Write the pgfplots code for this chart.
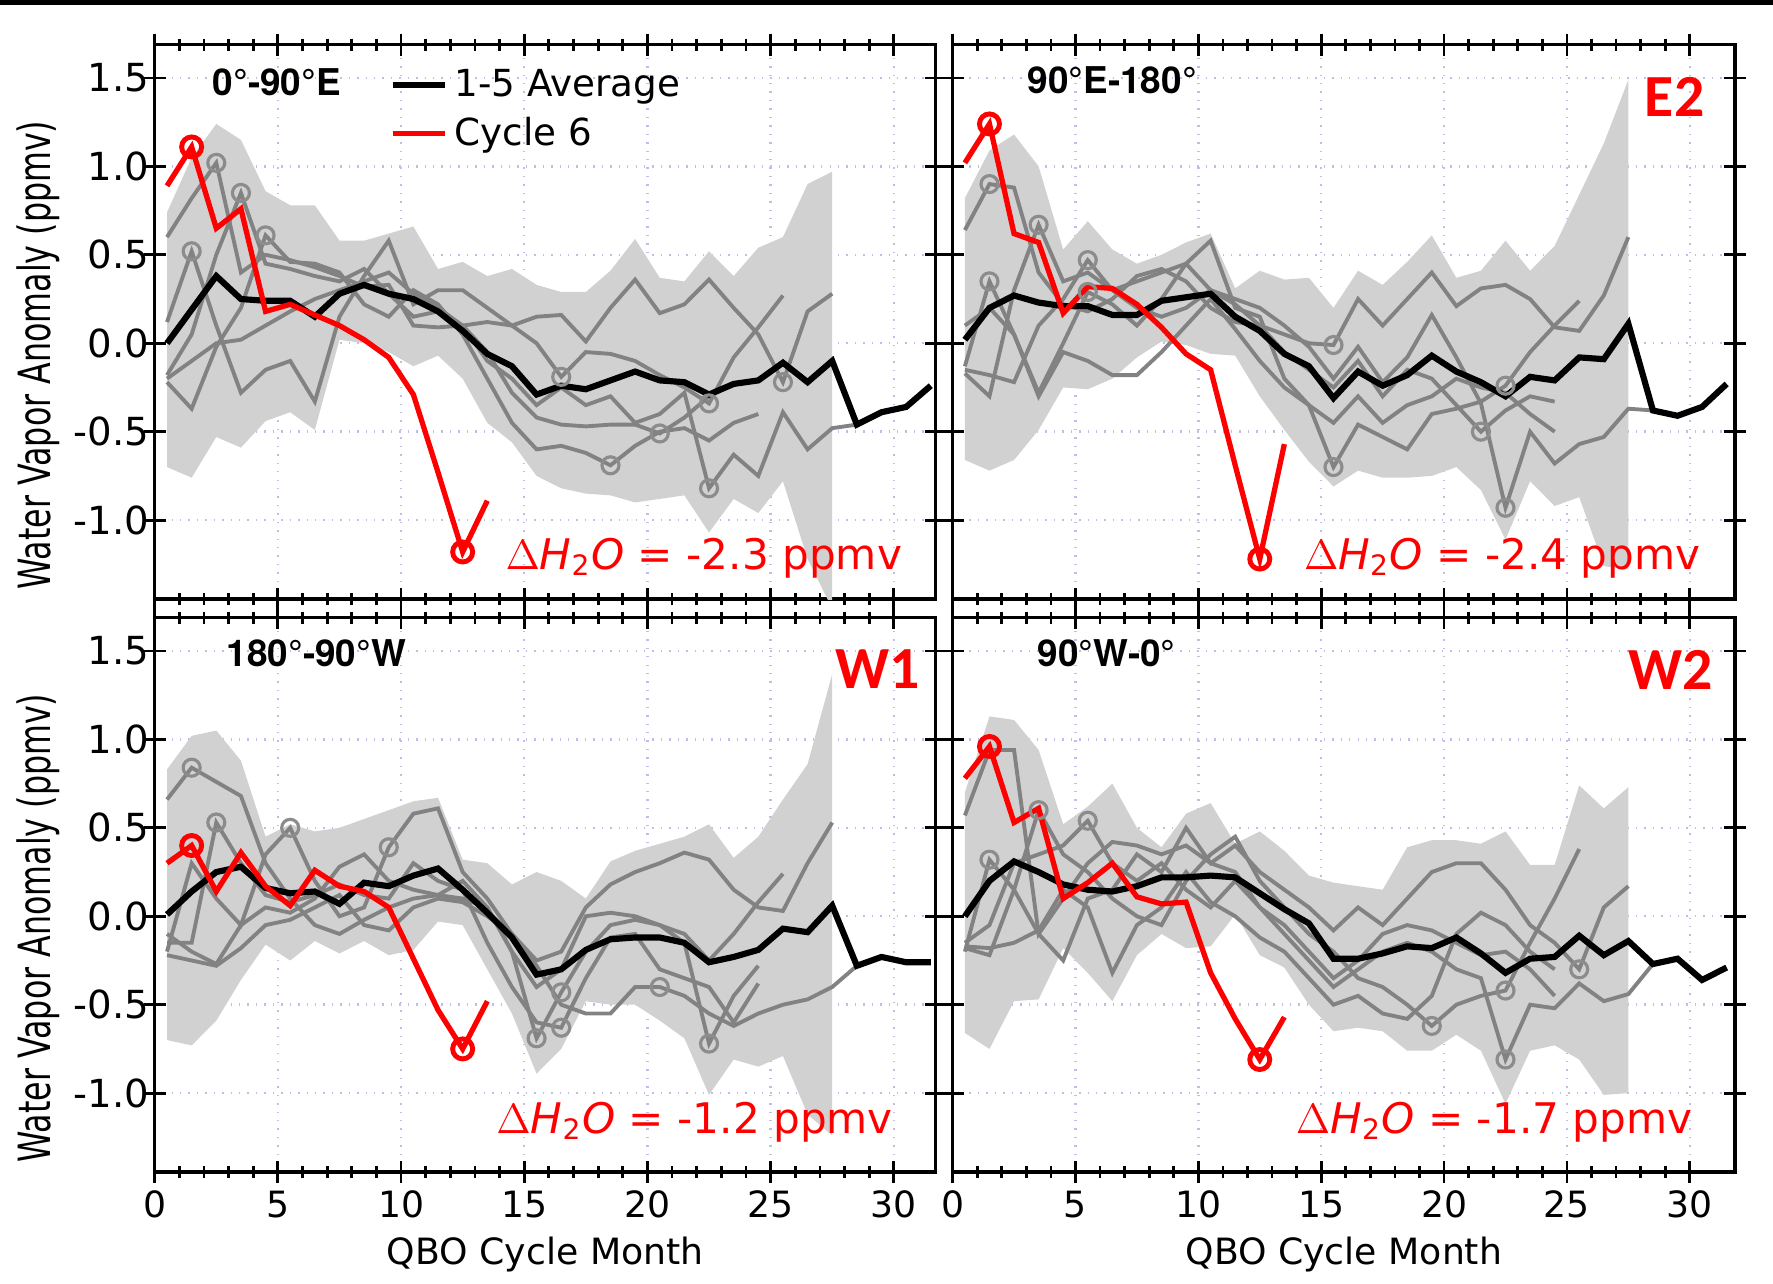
\documentclass[border=0pt]{standalone}
\usepackage{pgfplots}
\pgfplotsset{compat=1.18}
\usepackage{fontspec}
\setmainfont{DejaVu Sans}
\newfontfamily\heros{TeX Gyre Heros}
\newfontfamily\carlito{Carlito}
\definecolor{bandgray}{RGB}{209,209,209}
\definecolor{linegray}{RGB}{130,130,130}
\definecolor{circgray}{RGB}{140,140,140}
\definecolor{gridc}{RGB}{190,190,235}
\definecolor{pred}{RGB}{255,0,0}
\tikzset{
  ttl/.style={anchor=base west, inner sep=0pt, font=\heros\bfseries\fontsize{10.5}{12}\selectfont},
  rlab/.style={anchor=base east, text=pred, inner sep=0pt, font=\carlito\bfseries\fontsize{17}{20}\selectfont},
  dl/.style={anchor=base east, text=pred, inner sep=0pt, font=\fontsize{12}{14}\selectfont},
}
\pgfplotsset{
  panel/.style={
    scale only axis, width=78.1mm, height=55.43mm,
    xmin=0, xmax=31.75, ymin=-1.446, ymax=1.688,
    xtick={0,5,10,15,20,25,30}, minor x tick num=4,
    ytick={-1,-0.5,0,0.5,1,1.5},
    tick align=center, tick pos=both,
    major tick length=2.2mm, minor tick length=1.2mm,
    tick style={black, line width=0.8pt},
    axis line style={line width=0.9pt},
    xmajorgrids, ymajorgrids,
    major grid style={gridc, dotted, line width=0.7pt},
    x tick label style={font=\fontsize{10.3}{12}\selectfont, inner sep=0pt, yshift=-0.7mm},
    y tick label style={font=\fontsize{11}{13}\selectfont, /pgf/number format/fixed, /pgf/number format/fixed zerofill, /pgf/number format/precision=1, inner sep=0pt, xshift=0.6mm},
    /pgf/number format/assume math mode=true,
    clip=true,
  },
  leftp/.style={ylabel={\scalebox{0.82}[1.15]{Water Vapor Anomaly (ppmv)}},
    ylabel style={at={(axis description cs:-0.1487,0.44)}, anchor=center, inner sep=0pt, font=\fontsize{11}{13}\selectfont}},
  rightp/.style={yticklabels={}},
  topp/.style={xticklabels={}},
  botp/.style={xlabel={QBO Cycle Month},
    xlabel style={at={(axis description cs:0.5,0)}, anchor=north, yshift=-6.4mm, inner sep=0pt, font=\fontsize{10.3}{12}\selectfont}},
  band/.style={fill=bandgray, draw=none, forget plot},
  gl/.style={linegray, line width=1.1pt, forget plot},
  gc/.style={only marks, mark=o, mark size=0.85mm, circgray, mark options={line width=0.9pt}, forget plot},
  bl/.style={black, line width=1.75pt, forget plot},
  rl/.style={pred, line width=1.5pt, forget plot},
  rc/.style={only marks, mark=o, mark size=1mm, pred, mark options={line width=1.4pt}, forget plot},
}
\newcommand{\dlab}[1]{$\Delta${\itshape H}\textsubscript{2}{\itshape O} = #1 ppmv}
\begin{document}
\begin{tikzpicture}
\path[use as bounding box] (0,0) rectangle (177.3mm,128.3mm);
\fill[black] (0,127.8mm) rectangle (177.3mm,128.3mm);

% ---------------- Top left: 0-90E
\begin{axis}[panel, leftp, topp, at={(15.47mm,68.4mm)}, anchor=south west, xmax=31.7,
  legend style={at={(axis cs:9.5,1.595)}, anchor=north west, draw=none, fill=none, inner sep=0pt, row sep=0.15mm, font=\fontsize{10.6}{12}\selectfont, cells={anchor=west}},
  legend image code/.code={\draw[#1] (0mm,0mm) -- (5.2mm,0mm);}]
\addlegendimage{black, line width=1.75pt}\addlegendentry{1-5 Average}
\addlegendimage{pred, line width=1.5pt}\addlegendentry{Cycle 6}
\addplot[band] coordinates {(0.5,0.74)(1.5,1.05)(2.5,1.24)(3.5,1.15)(4.5,0.86)(5.5,0.78)(6.5,0.78)(7.5,0.58)(8.5,0.58)(9.5,0.62)(10.5,0.66)(11.5,0.42)(12.5,0.46)(13.5,0.38)(14.5,0.42)(15.5,0.33)(16.5,0.29)(17.5,0.29)(18.5,0.41)(19.5,0.59)(20.5,0.37)(21.5,0.35)(22.5,0.52)(23.5,0.38)(24.5,0.54)(25.5,0.60)(26.5,0.90)(27.5,0.97)
 (27.5,-1.50)(26.5,-1.22)(25.5,-0.78)(24.5,-0.96)(23.5,-0.88)(22.5,-1.07)(21.5,-0.86)(20.5,-0.88)(19.5,-0.90)(18.5,-0.86)(17.5,-0.85)(16.5,-0.82)(15.5,-0.75)(14.5,-0.56)(13.5,-0.45)(12.5,-0.20)(11.5,-0.07)(10.5,-0.13)(9.5,-0.05)(8.5,0.00)(7.5,0.02)(6.5,-0.49)(5.5,-0.39)(4.5,-0.44)(3.5,-0.59)(2.5,-0.53)(1.5,-0.76)(0.5,-0.70)} --cycle;
\addplot[gl] coordinates {(0.5,0.60)(1.5,0.82)(2.5,1.02)(3.5,0.40)(4.5,0.50)(5.5,0.47)(6.5,0.43)(7.5,0.38)(8.5,0.32)(9.5,0.33)(10.5,0.10)(11.5,0.09)(12.5,0.10)(13.5,0.12)(14.5,0.10)(15.5,0.00)(16.5,-0.19)(17.5,-0.05)(18.5,-0.06)(19.5,-0.10)(20.5,-0.18)(21.5,-0.25)(22.5,-0.34)(23.5,-0.08)(24.5,0.09)(25.5,0.27)};
\addplot[gl] coordinates {(0.5,0.12)(1.5,0.52)(2.5,0.10)(3.5,-0.28)(4.5,-0.15)(5.5,-0.10)(6.5,-0.33)(7.5,0.15)(8.5,0.38)(9.5,0.58)(10.5,0.22)(11.5,0.30)(12.5,0.30)(13.5,0.20)(14.5,0.10)(15.5,0.15)(16.5,0.16)(17.5,0.01)(18.5,0.20)(19.5,0.36)(20.5,0.17)(21.5,0.22)(22.5,0.36)(23.5,0.20)(24.5,0.05)(25.5,-0.22)(26.5,0.18)(27.5,0.28)};
\addplot[gl] coordinates {(0.5,-0.18)(1.5,0.05)(2.5,0.50)(3.5,0.85)(4.5,0.45)(5.5,0.42)(6.5,0.38)(7.5,0.35)(8.5,0.42)(9.5,0.28)(10.5,0.15)(11.5,0.18)(12.5,0.10)(13.5,-0.05)(14.5,-0.28)(15.5,-0.42)(16.5,-0.46)(17.5,-0.47)(18.5,-0.46)(19.5,-0.46)(20.5,-0.51)(21.5,-0.42)(22.5,-0.30)};
\addplot[gl] coordinates {(0.5,-0.22)(1.5,-0.37)(2.5,-0.02)(3.5,0.20)(4.5,0.61)(5.5,0.46)(6.5,0.45)(7.5,0.40)(8.5,0.22)(9.5,0.15)(10.5,0.30)(11.5,0.22)(12.5,0.05)(13.5,-0.20)(14.5,-0.45)(15.5,-0.60)(16.5,-0.58)(17.5,-0.62)(18.5,-0.69)(19.5,-0.58)(20.5,-0.50)(21.5,-0.48)(22.5,-0.55)(23.5,-0.45)(24.5,-0.40)};
\addplot[gl] coordinates {(0.5,-0.20)(1.5,-0.10)(2.5,0.00)(3.5,0.02)(4.5,0.10)(5.5,0.18)(6.5,0.25)(7.5,0.30)(8.5,0.35)(9.5,0.40)(10.5,0.28)(11.5,0.20)(12.5,0.10)(13.5,-0.10)(14.5,-0.20)(15.5,-0.35)(16.5,-0.25)(17.5,-0.35)(18.5,-0.30)(19.5,-0.45)(20.5,-0.40)(21.5,-0.28)(22.5,-0.82)(23.5,-0.63)(24.5,-0.75)(25.5,-0.39)(26.5,-0.60)(27.5,-0.48)(28.5,-0.46)};
\addplot[gc] coordinates {(1.5,0.52)(2.5,1.02)(3.5,0.85)(4.5,0.61)(16.5,-0.19)(18.5,-0.69)(20.5,-0.51)(22.5,-0.34)(22.5,-0.82)(25.5,-0.22)};
\addplot[bl] coordinates {(0.5,0.00)(1.5,0.19)(2.5,0.38)(3.5,0.25)(4.5,0.24)(5.5,0.24)(6.5,0.15)(7.5,0.28)(8.5,0.33)(9.5,0.28)(10.5,0.25)(11.5,0.18)(12.5,0.07)(13.5,-0.06)(14.5,-0.13)(15.5,-0.29)(16.5,-0.24)(17.5,-0.26)(18.5,-0.21)(19.5,-0.16)(20.5,-0.21)(21.5,-0.22)(22.5,-0.29)(23.5,-0.23)(24.5,-0.21)(25.5,-0.11)(26.5,-0.22)(27.5,-0.10)(28.5,-0.46)(29.5,-0.39)(30.5,-0.36)(31.5,-0.24)};
\addplot[rl] coordinates {(0.5,0.89)(1.5,1.11)(2.5,0.65)(3.5,0.76)(4.5,0.18)(5.5,0.22)(6.5,0.16)(7.5,0.10)(8.5,0.02)(9.5,-0.08)(10.5,-0.29)(11.5,-0.73)(12.5,-1.18)(13.5,-0.89)};
\addplot[rc] coordinates {(1.5,1.11)(12.5,-1.18)};
\node[ttl] at (axis cs:2.33,1.40) {0°-90°E};
\node[dl] at (axis cs:30.36,-1.28) {\dlab{-2.3}};
\end{axis}

% ---------------- Top right: 90E-180
\begin{axis}[panel, rightp, topp, at={(95.26mm,68.4mm)}, anchor=south west, width=78.24mm, xmax=31.84]
\addplot[band] coordinates {(0.5,0.82)(1.5,1.09)(2.5,1.18)(3.5,1.00)(4.5,0.53)(5.5,0.69)(6.5,0.53)(7.5,0.45)(8.5,0.50)(9.5,0.57)(10.5,0.62)(11.5,0.31)(12.5,0.41)(13.5,0.36)(14.5,0.37)(15.5,0.20)(16.5,0.41)(17.5,0.33)(18.5,0.46)(19.5,0.61)(20.5,0.37)(21.5,0.41)(22.5,0.58)(23.5,0.41)(24.5,0.55)(25.5,0.84)(26.5,1.13)(27.5,1.49)
 (27.5,-1.28)(26.5,-1.26)(25.5,-0.87)(24.5,-0.92)(23.5,-0.78)(22.5,-1.11)(21.5,-0.83)(20.5,-0.70)(19.5,-0.75)(18.5,-0.76)(17.5,-0.76)(16.5,-0.72)(15.5,-0.81)(14.5,-0.67)(13.5,-0.49)(12.5,-0.30)(11.5,-0.07)(10.5,-0.06)(9.5,-0.01)(8.5,0.01)(7.5,-0.08)(6.5,-0.20)(5.5,-0.26)(4.5,-0.25)(3.5,-0.49)(2.5,-0.66)(1.5,-0.72)(0.5,-0.66)} --cycle;
\addplot[gl] coordinates {(0.5,0.64)(1.5,0.90)(2.5,0.88)(3.5,0.40)(4.5,0.22)(5.5,0.18)(6.5,0.25)(7.5,0.38)(8.5,0.42)(9.5,0.35)(10.5,0.20)(11.5,0.12)(12.5,0.10)(13.5,0.05)(14.5,0.00)(15.5,-0.01)(16.5,0.25)(17.5,0.10)(18.5,0.25)(19.5,0.40)(20.5,0.21)(21.5,0.31)(22.5,0.33)(23.5,0.25)(24.5,0.09)(25.5,0.07)(26.5,0.27)(27.5,0.60)};
\addplot[gl] coordinates {(0.5,-0.13)(1.5,0.35)(2.5,0.05)(3.5,-0.28)(4.5,0.00)(5.5,0.29)(6.5,0.22)(7.5,0.10)(8.5,0.25)(9.5,0.45)(10.5,0.58)(11.5,0.20)(12.5,0.15)(13.5,-0.20)(14.5,-0.35)(15.5,-0.70)(16.5,-0.46)(17.5,-0.53)(18.5,-0.60)(19.5,-0.40)(20.5,-0.37)(21.5,-0.33)(22.5,-0.24)(23.5,-0.05)(24.5,0.10)(25.5,0.24)};
\addplot[gl] coordinates {(0.5,-0.17)(1.5,-0.30)(2.5,0.30)(3.5,0.67)(4.5,0.35)(5.5,0.40)(6.5,0.30)(7.5,0.20)(8.5,0.15)(9.5,0.20)(10.5,0.30)(11.5,0.25)(12.5,0.20)(13.5,0.10)(14.5,-0.02)(15.5,-0.20)(16.5,-0.02)(17.5,-0.22)(18.5,-0.08)(19.5,0.16)(20.5,-0.08)(21.5,-0.34)(22.5,-0.93)(23.5,-0.50)(24.5,-0.68)(25.5,-0.57)(26.5,-0.53)(27.5,-0.37)(28.5,-0.38)};
\addplot[gl] coordinates {(0.5,-0.15)(1.5,-0.18)(2.5,-0.22)(3.5,0.10)(4.5,0.25)(5.5,0.47)(6.5,0.30)(7.5,0.35)(8.5,0.40)(9.5,0.45)(10.5,0.30)(11.5,0.22)(12.5,0.10)(13.5,-0.05)(14.5,-0.15)(15.5,-0.25)(16.5,-0.10)(17.5,-0.30)(18.5,-0.15)(19.5,-0.20)(20.5,-0.35)(21.5,-0.50)(22.5,-0.38)(23.5,-0.30)(24.5,-0.33)};
\addplot[gl] coordinates {(0.5,0.10)(1.5,0.20)(2.5,0.05)(3.5,-0.30)(4.5,-0.05)(5.5,-0.10)(6.5,-0.18)(7.5,-0.18)(8.5,-0.05)(9.5,0.10)(10.5,0.25)(11.5,0.08)(12.5,-0.10)(13.5,-0.25)(14.5,-0.35)(15.5,-0.45)(16.5,-0.30)(17.5,-0.45)(18.5,-0.35)(19.5,-0.30)(20.5,-0.20)(21.5,-0.25)(22.5,-0.28)(23.5,-0.40)(24.5,-0.50)};
\addplot[gc] coordinates {(1.5,0.90)(1.5,0.35)(3.5,0.67)(5.5,0.47)(5.5,0.29)(15.5,-0.01)(15.5,-0.70)(21.5,-0.50)(22.5,-0.93)(22.5,-0.24)};
\addplot[bl] coordinates {(0.5,0.02)(1.5,0.20)(2.5,0.27)(3.5,0.23)(4.5,0.21)(5.5,0.21)(6.5,0.16)(7.5,0.16)(8.5,0.24)(9.5,0.26)(10.5,0.28)(11.5,0.15)(12.5,0.07)(13.5,-0.06)(14.5,-0.13)(15.5,-0.31)(16.5,-0.16)(17.5,-0.24)(18.5,-0.18)(19.5,-0.07)(20.5,-0.16)(21.5,-0.22)(22.5,-0.30)(23.5,-0.19)(24.5,-0.21)(25.5,-0.08)(26.5,-0.09)(27.5,0.11)(28.5,-0.38)(29.5,-0.41)(30.5,-0.36)(31.5,-0.23)};
\addplot[rl] coordinates {(0.5,1.02)(1.5,1.24)(2.5,0.62)(3.5,0.57)(4.5,0.17)(5.5,0.32)(6.5,0.31)(7.5,0.22)(8.5,0.09)(9.5,-0.06)(10.5,-0.15)(11.5,-0.69)(12.5,-1.22)(13.5,-0.57)};
\addplot[rc] coordinates {(1.5,1.24)(12.5,-1.22)};
\node[ttl] at (axis cs:3.03,1.41) {90°E-180°};
\node[rlab] at (axis cs:30.62,1.28) {E2};
\node[dl] at (axis cs:30.46,-1.28) {\dlab{-2.4}};
\end{axis}

% ---------------- Bottom left: 180-90W
\begin{axis}[panel, leftp, botp, at={(15.47mm,11.1mm)}, anchor=south west, xmax=31.7]
\addplot[band] coordinates {(0.5,0.83)(1.5,1.02)(2.5,1.05)(3.5,0.88)(4.5,0.45)(5.5,0.52)(6.5,0.48)(7.5,0.50)(8.5,0.55)(9.5,0.60)(10.5,0.65)(11.5,0.67)(12.5,0.32)(13.5,0.30)(14.5,0.18)(15.5,0.25)(16.5,0.20)(17.5,0.10)(18.5,0.31)(19.5,0.37)(20.5,0.41)(21.5,0.45)(22.5,0.52)(23.5,0.33)(24.5,0.45)(25.5,0.66)(26.5,0.86)(27.5,1.37)
 (27.5,-1.24)(26.5,-1.12)(25.5,-0.79)(24.5,-0.85)(23.5,-0.81)(22.5,-1.01)(21.5,-0.69)(20.5,-0.59)(19.5,-0.50)(18.5,-0.50)(17.5,-0.48)(16.5,-0.75)(15.5,-0.89)(14.5,-0.55)(13.5,-0.30)(12.5,-0.05)(11.5,-0.03)(10.5,-0.19)(9.5,-0.22)(8.5,-0.14)(7.5,-0.21)(6.5,-0.14)(5.5,-0.25)(4.5,-0.16)(3.5,-0.36)(2.5,-0.59)(1.5,-0.73)(0.5,-0.70)} --cycle;
\addplot[gl] coordinates {(0.5,0.66)(1.5,0.84)(2.5,0.76)(3.5,0.68)(4.5,0.30)(5.5,0.10)(6.5,-0.05)(7.5,-0.10)(8.5,-0.02)(9.5,0.05)(10.5,0.10)(11.5,0.12)(12.5,0.10)(13.5,0.05)(14.5,-0.20)(15.5,-0.69)(16.5,-0.43)(17.5,-0.20)(18.5,-0.05)(19.5,-0.02)(20.5,-0.05)(21.5,-0.15)(22.5,-0.72)(23.5,-0.45)(24.5,-0.28)};
\addplot[gl] coordinates {(0.5,-0.15)(1.5,-0.15)(2.5,0.53)(3.5,0.30)(4.5,0.12)(5.5,0.08)(6.5,0.12)(7.5,0.18)(8.5,0.12)(9.5,0.10)(10.5,0.30)(11.5,0.20)(12.5,0.15)(13.5,-0.15)(14.5,-0.40)(15.5,-0.60)(16.5,-0.63)(17.5,-0.35)(18.5,-0.12)(19.5,-0.10)(20.5,-0.30)(21.5,-0.35)(22.5,-0.40)(23.5,-0.60)(24.5,-0.38)};
\addplot[gl] coordinates {(0.5,-0.20)(1.5,0.30)(2.5,0.10)(3.5,-0.05)(4.5,0.35)(5.5,0.50)(6.5,0.20)(7.5,0.00)(8.5,0.05)(9.5,0.39)(10.5,0.58)(11.5,0.61)(12.5,0.25)(13.5,0.10)(14.5,-0.10)(15.5,-0.25)(16.5,-0.20)(17.5,0.05)(18.5,0.18)(19.5,0.25)(20.5,0.30)(21.5,0.36)(22.5,0.32)(23.5,0.15)(24.5,0.05)(25.5,0.03)(26.5,0.30)(27.5,0.53)};
\addplot[gl] coordinates {(0.5,-0.10)(1.5,-0.20)(2.5,-0.27)(3.5,-0.05)(4.5,0.05)(5.5,0.02)(6.5,0.10)(7.5,0.28)(8.5,0.35)(9.5,0.20)(10.5,0.15)(11.5,0.12)(12.5,0.20)(13.5,0.05)(14.5,-0.20)(15.5,-0.40)(16.5,-0.30)(17.5,0.00)(18.5,0.02)(19.5,0.00)(20.5,-0.05)(21.5,-0.10)(22.5,-0.25)(23.5,-0.10)(24.5,0.08)(25.5,0.24)};
\addplot[gl] coordinates {(0.5,-0.22)(1.5,-0.25)(2.5,-0.28)(3.5,-0.18)(4.5,-0.05)(5.5,-0.02)(6.5,0.05)(7.5,0.12)(8.5,-0.05)(9.5,-0.08)(10.5,0.05)(11.5,0.10)(12.5,0.08)(13.5,0.00)(14.5,-0.10)(15.5,-0.28)(16.5,-0.50)(17.5,-0.55)(18.5,-0.55)(19.5,-0.40)(20.5,-0.40)(21.5,-0.45)(22.5,-0.55)(23.5,-0.62)(24.5,-0.55)(25.5,-0.50)(26.5,-0.47)(27.5,-0.40)(28.5,-0.28)};
\addplot[gc] coordinates {(1.5,0.84)(2.5,0.53)(5.5,0.50)(9.5,0.39)(15.5,-0.69)(16.5,-0.43)(16.5,-0.63)(20.5,-0.40)(22.5,-0.72)};
\addplot[bl] coordinates {(0.5,0.01)(1.5,0.14)(2.5,0.25)(3.5,0.28)(4.5,0.16)(5.5,0.13)(6.5,0.14)(7.5,0.07)(8.5,0.19)(9.5,0.17)(10.5,0.23)(11.5,0.27)(12.5,0.15)(13.5,0.02)(14.5,-0.12)(15.5,-0.33)(16.5,-0.30)(17.5,-0.19)(18.5,-0.13)(19.5,-0.12)(20.5,-0.12)(21.5,-0.15)(22.5,-0.26)(23.5,-0.23)(24.5,-0.19)(25.5,-0.07)(26.5,-0.09)(27.5,0.06)(28.5,-0.28)(29.5,-0.23)(30.5,-0.26)(31.5,-0.26)};
\addplot[rl] coordinates {(0.5,0.30)(1.5,0.40)(2.5,0.14)(3.5,0.36)(4.5,0.17)(5.5,0.06)(6.5,0.26)(7.5,0.17)(8.5,0.14)(9.5,0.05)(10.5,-0.24)(11.5,-0.53)(12.5,-0.75)(13.5,-0.48)};
\addplot[rc] coordinates {(1.5,0.40)(12.5,-0.75)};
\node[ttl] at (axis cs:2.9,1.41) {180°-90°W};
\node[rlab] at (axis cs:31.08,1.29) {W1};
\node[dl] at (axis cs:29.99,-1.226) {\dlab{-1.2}};
\end{axis}

% ---------------- Bottom right: 90W-0
\begin{axis}[panel, rightp, botp, at={(95.26mm,11.1mm)}, anchor=south west, width=78.24mm, xmax=31.84]
\addplot[band] coordinates {(0.5,0.70)(1.5,1.13)(2.5,1.11)(3.5,0.94)(4.5,0.52)(5.5,0.62)(6.5,0.75)(7.5,0.50)(8.5,0.39)(9.5,0.58)(10.5,0.64)(11.5,0.41)(12.5,0.48)(13.5,0.37)(14.5,0.23)(15.5,0.19)(16.5,0.17)(17.5,0.15)(18.5,0.39)(19.5,0.43)(20.5,0.43)(21.5,0.41)(22.5,0.48)(23.5,0.29)(24.5,0.29)(25.5,0.74)(26.5,0.61)(27.5,0.73)
 (27.5,-1.00)(26.5,-1.01)(25.5,-0.81)(24.5,-0.73)(23.5,-0.76)(22.5,-1.06)(21.5,-0.76)(20.5,-0.67)(19.5,-0.76)(18.5,-0.76)(17.5,-0.65)(16.5,-0.63)(15.5,-0.65)(14.5,-0.50)(13.5,-0.29)(12.5,-0.22)(11.5,0.01)(10.5,-0.17)(9.5,-0.18)(8.5,-0.10)(7.5,-0.22)(6.5,-0.48)(5.5,-0.32)(4.5,-0.18)(3.5,-0.47)(2.5,-0.48)(1.5,-0.75)(0.5,-0.66)} --cycle;
\addplot[gl] coordinates {(0.5,0.57)(1.5,0.94)(2.5,0.94)(3.5,-0.10)(4.5,0.10)(5.5,0.30)(6.5,0.42)(7.5,0.40)(8.5,0.35)(9.5,0.40)(10.5,0.30)(11.5,0.25)(12.5,0.05)(13.5,-0.10)(14.5,-0.25)(15.5,-0.40)(16.5,-0.30)(17.5,-0.20)(18.5,-0.15)(19.5,-0.20)(20.5,-0.30)(21.5,-0.35)(22.5,-0.81)(23.5,-0.50)(24.5,-0.52)(25.5,-0.38)(26.5,-0.48)(27.5,-0.44)(28.5,-0.27)};
\addplot[gl] coordinates {(0.5,-0.20)(1.5,0.32)(2.5,0.15)(3.5,-0.10)(4.5,-0.25)(5.5,0.10)(6.5,0.15)(7.5,0.35)(8.5,0.25)(9.5,0.50)(10.5,0.30)(11.5,0.40)(12.5,0.25)(13.5,0.15)(14.5,0.05)(15.5,-0.08)(16.5,0.05)(17.5,-0.05)(18.5,0.10)(19.5,0.25)(20.5,0.30)(21.5,0.30)(22.5,0.15)(23.5,-0.05)(24.5,-0.15)(25.5,-0.30)(26.5,0.05)(27.5,0.17)};
\addplot[gl] coordinates {(0.5,-0.18)(1.5,-0.22)(2.5,0.15)(3.5,0.60)(4.5,0.35)(5.5,0.25)(6.5,0.10)(7.5,0.00)(8.5,-0.05)(9.5,0.20)(10.5,0.35)(11.5,0.45)(12.5,0.20)(13.5,0.05)(14.5,-0.10)(15.5,-0.20)(16.5,-0.35)(17.5,-0.40)(18.5,-0.50)(19.5,-0.62)(20.5,-0.50)(21.5,-0.45)(22.5,-0.42)(23.5,-0.15)(24.5,0.10)(25.5,0.38)};
\addplot[gl] coordinates {(0.5,-0.15)(1.5,-0.05)(2.5,0.30)(3.5,0.35)(4.5,0.40)(5.5,0.54)(6.5,0.30)(7.5,0.20)(8.5,0.30)(9.5,0.15)(10.5,0.05)(11.5,0.20)(12.5,0.05)(13.5,-0.05)(14.5,-0.20)(15.5,-0.35)(16.5,-0.25)(17.5,-0.10)(18.5,-0.05)(19.5,-0.08)(20.5,-0.15)(21.5,-0.22)(22.5,-0.20)(23.5,-0.30)(24.5,-0.45)};
\addplot[gl] coordinates {(0.5,-0.17)(1.5,-0.18)(2.5,-0.15)(3.5,-0.08)(4.5,0.15)(5.5,0.05)(6.5,-0.32)(7.5,-0.05)(8.5,0.05)(9.5,0.25)(10.5,0.08)(11.5,0.00)(12.5,-0.12)(13.5,-0.20)(14.5,-0.35)(15.5,-0.50)(16.5,-0.45)(17.5,-0.55)(18.5,-0.58)(19.5,-0.45)(20.5,-0.10)(21.5,0.02)(22.5,-0.05)(23.5,-0.20)(24.5,-0.30)};
\addplot[gc] coordinates {(1.5,0.32)(3.5,0.60)(5.5,0.54)(19.5,-0.62)(22.5,-0.42)(22.5,-0.81)(25.5,-0.30)};
\addplot[bl] coordinates {(0.5,0.00)(1.5,0.20)(2.5,0.31)(3.5,0.25)(4.5,0.18)(5.5,0.15)(6.5,0.14)(7.5,0.17)(8.5,0.22)(9.5,0.22)(10.5,0.23)(11.5,0.22)(12.5,0.13)(13.5,0.04)(14.5,-0.04)(15.5,-0.24)(16.5,-0.24)(17.5,-0.21)(18.5,-0.17)(19.5,-0.18)(20.5,-0.12)(21.5,-0.21)(22.5,-0.32)(23.5,-0.24)(24.5,-0.23)(25.5,-0.11)(26.5,-0.22)(27.5,-0.14)(28.5,-0.27)(29.5,-0.24)(30.5,-0.36)(31.5,-0.29)};
\addplot[rl] coordinates {(0.5,0.78)(1.5,0.96)(2.5,0.53)(3.5,0.61)(4.5,0.10)(5.5,0.19)(6.5,0.30)(7.5,0.11)(8.5,0.07)(9.5,0.08)(10.5,-0.32)(11.5,-0.58)(12.5,-0.81)(13.5,-0.57)};
\addplot[rc] coordinates {(1.5,0.96)(12.5,-0.81)};
\node[ttl] at (axis cs:3.43,1.41) {90°W-0°};
\node[rlab] at (axis cs:30.95,1.28) {W2};
\node[dl] at (axis cs:30.13,-1.226) {\dlab{-1.7}};
\end{axis}
\end{tikzpicture}
\end{document}
